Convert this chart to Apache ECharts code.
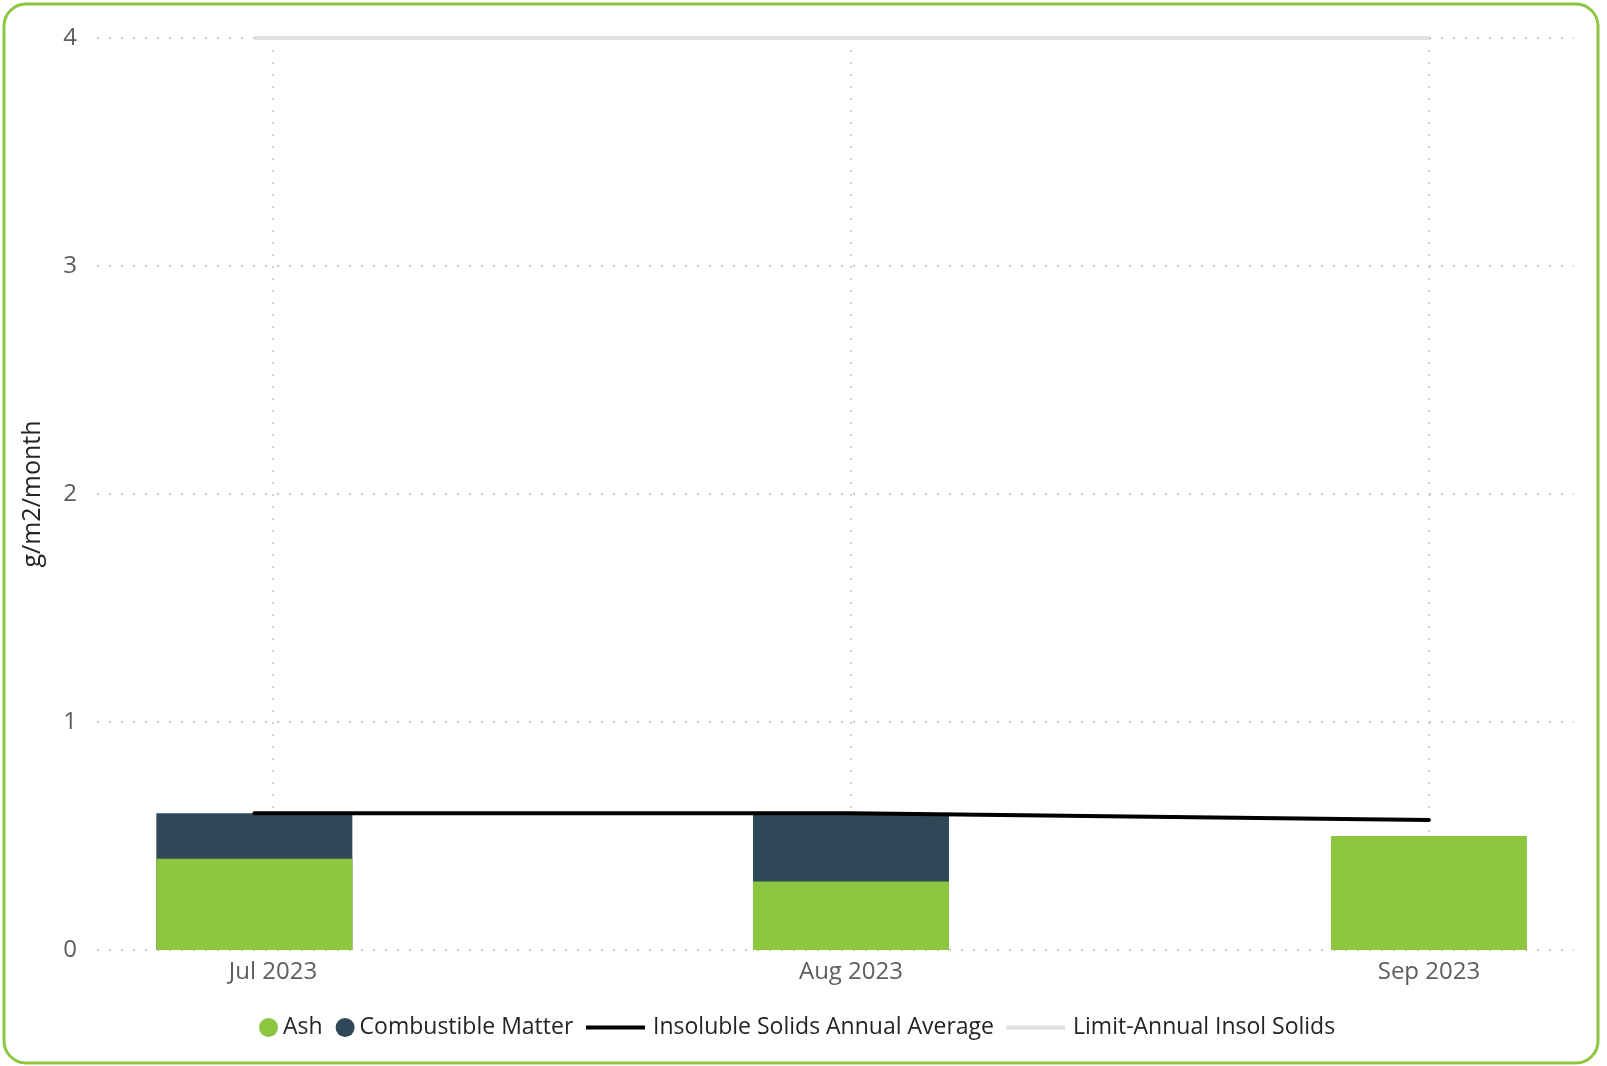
<!DOCTYPE html>
<html>
<head>
<meta charset="utf-8">
<script src="https://cdn.jsdelivr.net/npm/echarts@6/dist/echarts.min.js"></script>
<style>
html,body{margin:0;padding:0;background:#fff;}
#chart{width:1607px;height:1066px;}
</style>
</head>
<body>
<div id="chart"></div>
<script>
// ---- data ----
const barDates = ['2023-06-30', '2023-08-01', '2023-09-01'];
const ash = [0.40, 0.30, 0.50];
const combustible = [0.20, 0.30, 0];
const annualAverage = [0.60, 0.60, 0.57];
const limitAnnual = [4, 4, 4];
const tickDates = ['2023-07-01', '2023-08-01', '2023-09-01'];
const tickLabels = ['Jul 2023', 'Aug 2023', 'Sep 2023'];
const yTicks = [0, 1, 2, 3, 4];

// x positions as day numbers (days since epoch)
const DAY = 86400000;
function dayNum(s) { const p = s.split('-').map(Number); return Date.UTC(p[0], p[1] - 1, p[2]) / DAY; }
const tickDays = tickDates.map(dayNum);
const pairs = (vals) => barDates.map((d, i) => [dayNum(d), vals[i]]);
// stacked top of the combustible segment (ash + combustible); none where combustible is 0
const stackedTop = ash.map((v, i) => combustible[i] > 0 ? +(v + combustible[i]).toFixed(4) : null);

const FONT = '"Open Sans", "Noto Sans", sans-serif';
const chart = echarts.init(document.getElementById('chart'), null, {renderer: 'canvas'});
chart.setOption({
  animation: false,
  backgroundColor: '#ffffff',
  grid: {left: 97, right: 33, top: 38, bottom: 116, containLabel: false},
  graphic: [{
    type: 'rect', z: 100, silent: true,
    shape: {x: 4, y: 4, width: 1594, height: 1059, r: 22},
    style: {fill: 'none', stroke: '#8DC63F', lineWidth: 3}
  }],
  xAxis: {
    type: 'value',
    min: tickDays[0] - 9.44,
    max: tickDays[2] + 7.78,
    axisLine: {show: false},
    axisTick: {show: false, customValues: tickDays},
    splitLine: {show: true, lineStyle: {color: '#c8c8c8', width: 1.5, type: [2, 10]}},
    axisLabel: {
      customValues: tickDays,
      margin: 10,
      color: '#605E5C',
      fontFamily: FONT,
      fontSize: 24,
      formatter: function (v) {
        const i = tickDays.indexOf(v);
        return i >= 0 ? tickLabels[i] : '';
      }
    }
  },
  yAxis: {
    type: 'value',
    min: yTicks[0], max: yTicks[yTicks.length - 1], interval: 1,
    name: 'g/m2/month',
    nameLocation: 'middle',
    nameGap: 52,
    nameTextStyle: {color: '#252423', fontFamily: FONT, fontSize: 25},
    axisLine: {show: false},
    axisTick: {show: false},
    axisLabel: {margin: 20, color: '#605E5C', fontFamily: FONT, fontSize: 24},
    splitLine: {lineStyle: {color: '#c8c8c8', width: 2, type: [2, 10]}}
  },
  legend: [{
    left: 259, top: 1016, padding: 0,
    itemWidth: 19, itemHeight: 19, itemGap: 13,
    icon: 'circle',
    textStyle: {color: '#252423', fontFamily: FONT, fontSize: 23},
    data: ['Ash', 'Combustible Matter']
  }, {
    left: 586, top: 1016, padding: 0,
    itemWidth: 59, itemHeight: 4, itemGap: 12,
    textStyle: {color: '#252423', fontFamily: FONT, fontSize: 23, padding: [0, 0, 0, 3]},
    data: [
      {name: 'Insoluble Solids Annual Average', icon: 'rect'},
      {name: 'Limit-Annual Insol Solids', icon: 'rect'}
    ]
  }],
  series: [{
    name: 'Combustible Matter', type: 'bar', barWidth: 196,
    itemStyle: {color: '#2F4858'},
    data: pairs(stackedTop)
  }, {
    name: 'Ash', type: 'bar', barWidth: 196, barGap: '-100%',
    itemStyle: {color: '#8DC63F'},
    data: pairs(ash)
  }, {
    name: 'Insoluble Solids Annual Average', type: 'line',
    symbol: 'none', z: 5,
    lineStyle: {color: '#000000', width: 4, cap: 'round'},
    itemStyle: {color: '#000000'},
    data: pairs(annualAverage)
  }, {
    name: 'Limit-Annual Insol Solids', type: 'line',
    symbol: 'none', z: 4,
    lineStyle: {color: '#E1E1E1', width: 4},
    itemStyle: {color: '#E1E1E1'},
    data: pairs(limitAnnual)
  }]
});
</script>
</body>
</html>
